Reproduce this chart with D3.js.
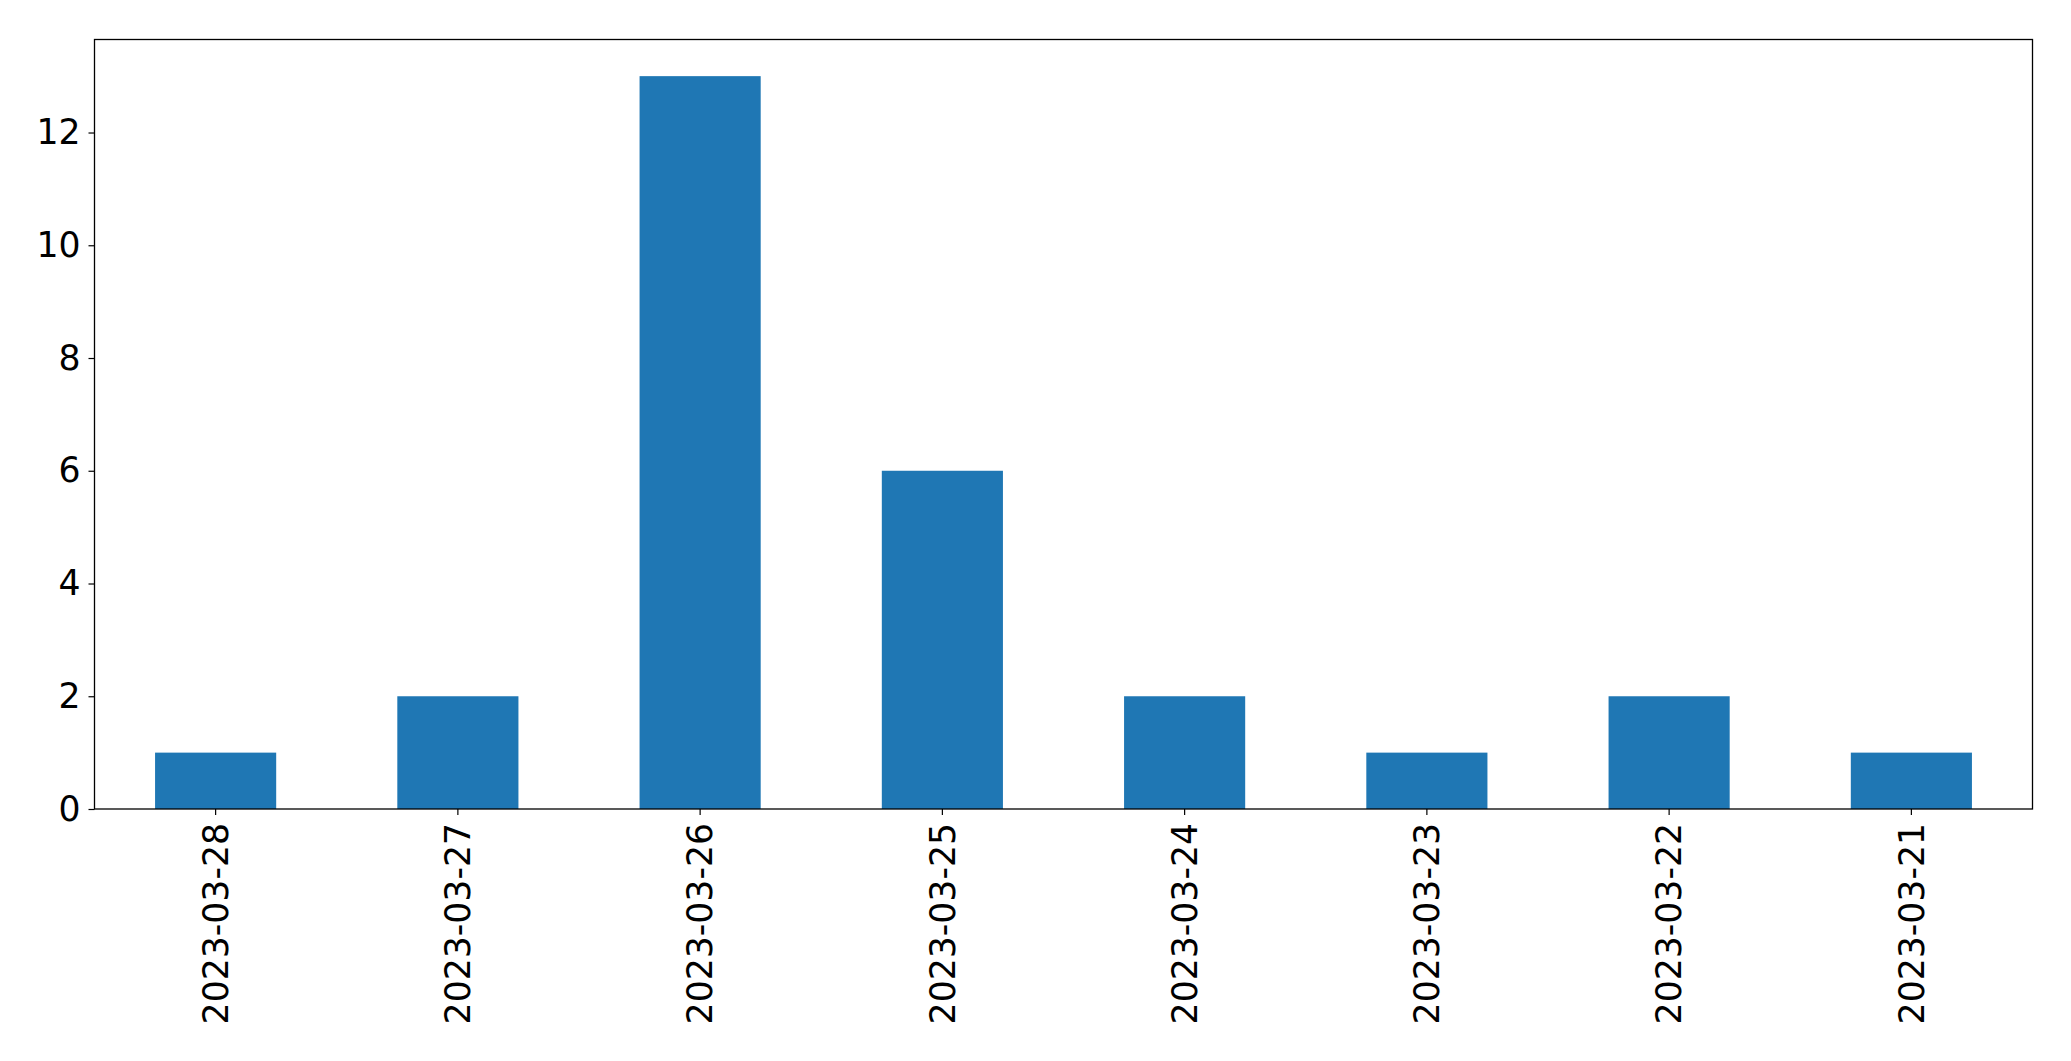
<!DOCTYPE html>
<html>
<head>
<meta charset="utf-8">
<script src="https://cdn.jsdelivr.net/npm/d3@7"></script>
<style>
html,body{margin:0;padding:0;background:#fff;}
svg{display:block;}
</style>
</head>
<body>
<script>
const categories = ["2023-03-28","2023-03-27","2023-03-26","2023-03-25","2023-03-24","2023-03-23","2023-03-22","2023-03-21"];
const values = [1, 2, 13, 6, 2, 1, 2, 1];
const yTicks = [0, 2, 4, 6, 8, 10, 12];

const W = 2071, H = 1061;
const m = {left: 94.5, right: 2032.5, top: 39.5, bottom: 809};
const fontSize = 34.67;
const svg = d3.select("body").append("svg").attr("width", W).attr("height", H)
  .style("font-family", "'DejaVu Sans', sans-serif");

const x = d3.scaleBand().domain(categories).range([m.left, m.right]).paddingInner(0.5).paddingOuter(0.25);
const yMax = d3.max(values) * 1.05;
const y = d3.scaleLinear().domain([0, yMax]).range([m.bottom, m.top]);

svg.append("g").selectAll("rect").data(values).join("rect")
  .attr("x", (d, i) => x(categories[i]))
  .attr("width", x.bandwidth())
  .attr("y", d => y(d))
  .attr("height", d => y(0) - y(d))
  .attr("fill", "#1f77b4");

// frame
svg.append("rect").attr("x", m.left).attr("y", m.top)
  .attr("width", m.right - m.left).attr("height", m.bottom - m.top)
  .attr("fill", "none").attr("stroke", "#000").attr("stroke-width", 1.3);

// y axis
const yAxis = svg.append("g").attr("transform", `translate(${m.left},0)`)
  .call(d3.axisLeft(y).tickValues(yTicks).tickSize(6).tickPadding(8).tickFormat(d3.format("d")));
yAxis.select(".domain").remove();
yAxis.selectAll(".tick line").attr("stroke", "#000").attr("stroke-width", 1.2);
yAxis.selectAll(".tick text").attr("font-size", fontSize).attr("fill", "#000")
  .attr("font-family", "'DejaVu Sans', sans-serif");

// x axis
const xAxis = svg.append("g").attr("transform", `translate(0,${m.bottom})`)
  .call(d3.axisBottom(x).tickSize(6).tickPadding(0));
xAxis.select(".domain").remove();
xAxis.selectAll(".tick line").attr("stroke", "#000").attr("stroke-width", 1.2);
xAxis.selectAll(".tick text")
  .attr("font-size", fontSize).attr("fill", "#000")
  .attr("font-family", "'DejaVu Sans', sans-serif")
  .attr("text-anchor", "end")
  .attr("dy", "0.35em")
  .attr("transform", "translate(0,14) rotate(-90)")
  .attr("x", 0).attr("y", 0);
</script>
</body>
</html>
